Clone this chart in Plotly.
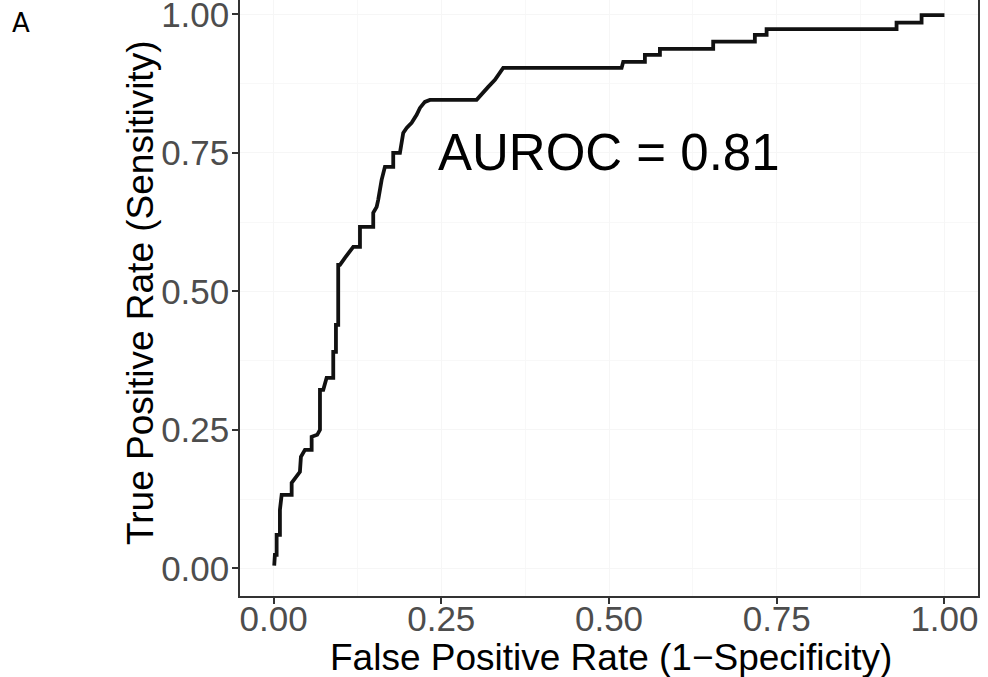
import plotly.graph_objects as go

fpr = [0.001, 0.002, 0.0046, 0.0046, 0.0095, 0.0095, 0.0121, 0.027, 0.027, 0.0344,
       0.0393, 0.0408, 0.0468, 0.0568, 0.0568, 0.0651, 0.0692, 0.0692, 0.0741, 0.0791,
       0.0890, 0.0890, 0.0930, 0.0930, 0.0964, 0.0964, 0.0990, 0.1064, 0.1113, 0.1188,
       0.1288, 0.1288, 0.1486, 0.1486, 0.1537, 0.1560, 0.1611, 0.1660, 0.1784, 0.1784,
       0.1884, 0.1933, 0.1984, 0.2058, 0.2133, 0.2182, 0.2256, 0.2331, 0.3027, 0.3101,
       0.3200, 0.3300, 0.3374, 0.3423, 0.5188, 0.5212, 0.5535, 0.5535, 0.5759, 0.5759,
       0.6553, 0.6553, 0.7174, 0.7174, 0.7349, 0.7349, 0.9286, 0.9286, 0.9659, 0.9659,
       1.0]
tpr = [0.005, 0.0244, 0.0244, 0.0605, 0.0605, 0.1056, 0.1327, 0.1327, 0.1543, 0.1652,
       0.1742, 0.2013, 0.2139, 0.2139, 0.2374, 0.2410, 0.2500, 0.3222, 0.3222, 0.3439,
       0.3439, 0.3908, 0.3908, 0.4395, 0.4395, 0.5478, 0.5478, 0.5605, 0.5695, 0.5803,
       0.5803, 0.6164, 0.6164, 0.6417, 0.6525, 0.6652, 0.7013, 0.7247, 0.7247, 0.7500,
       0.7500, 0.7861, 0.7951, 0.8042, 0.8186, 0.8312, 0.8421, 0.8457, 0.8457, 0.8547,
       0.8691, 0.8818, 0.8944, 0.9034, 0.9034, 0.9143, 0.9143, 0.9269, 0.9269, 0.9377,
       0.9377, 0.9509, 0.9509, 0.9630, 0.9630, 0.9733, 0.9733, 0.9852, 0.9852, 0.9986,
       0.9986]

tick_vals = [0.0, 0.25, 0.5, 0.75, 1.0]
tick_text = ["0.00", "0.25", "0.50", "0.75", "1.00"]
auroc_label = "AUROC = 0.81"
x_title = "False Positive Rate (1\u2212Specificity)"
y_title = "True Positive Rate (Sensitivity)"
panel_label = "A"

FONT = "Liberation Sans, Arial, sans-serif"

# layout geometry (pixels)
W, H = 988, 677
ML, MR, MT, MB = 240, 10, 0, 81
PW, PH = W - ML - MR, H - MT - MB

fig = go.Figure()
fig.add_trace(go.Scatter(x=fpr, y=tpr, mode="lines",
                         line=dict(color="#111111", width=3.8),
                         showlegend=False, hoverinfo="skip"))

fig.add_annotation(x=0.5, y=0.75, xref="x", yref="y", text=auroc_label,
                   showarrow=False, font=dict(family=FONT, size=51, color="#000000"))

fig.add_annotation(x=(21 - ML) / PW, y=(PH - 23) / PH, xref="paper", yref="paper",
                   text=panel_label, showarrow=False, xanchor="center", yanchor="middle",
                   font=dict(family="DejaVu Sans", size=26, color="#000000"))

fig.add_annotation(x=(140 - ML) / PW, y=(PH - 293) / PH, xref="paper", yref="paper",
                   text=y_title, showarrow=False, textangle=-90,
                   xanchor="center", yanchor="middle",
                   font=dict(family=FONT, size=37, color="#000000"))

fig.add_annotation(x=(611 - ML) / PW, y=(PH - 657) / PH, xref="paper", yref="paper",
                   text=x_title, showarrow=False,
                   xanchor="center", yanchor="middle",
                   font=dict(family=FONT, size=37, color="#000000"))

axis_common = dict(
    tickvals=tick_vals, ticktext=tick_text,
    ticks="outside", ticklen=6, tickwidth=1.5, tickcolor="#333333",
    tickfont=dict(family=FONT, size=35, color="#4d4d4d"),
    showline=True, linecolor="#333333", linewidth=1.5,
    showgrid=True, gridcolor="#f6f6f6", gridwidth=1.2,
    minor=dict(dtick=0.125, showgrid=True, gridcolor="#f8f8f8", gridwidth=1),
    zeroline=False, automargin=False, ticklabeloverflow="allow",
)

fig.update_xaxes(range=[-0.05, 1.05], mirror=False, ticklabelstandoff=-15, **axis_common)
fig.update_yaxes(range=[-0.05, 1.026], mirror=True, ticklabelstandoff=-4, **axis_common)

fig.update_layout(
    width=W, height=H,
    margin=dict(l=ML, r=MR, t=MT, b=MB),
    plot_bgcolor="#ffffff", paper_bgcolor="#ffffff",
)

fig.write_html("out.html")
